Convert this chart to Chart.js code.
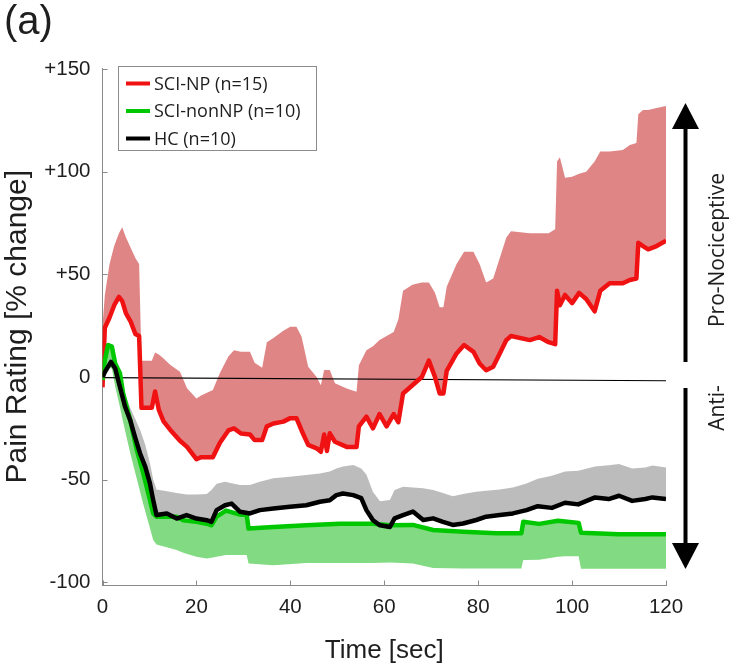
<!DOCTYPE html>
<html><head><meta charset="utf-8">
<script src="https://cdn.jsdelivr.net/npm/chart.js@4.4.1/dist/chart.umd.min.js"></script>
<style>html,body{margin:0;padding:0;background:#fff;} canvas{display:block;}</style>
</head><body>
<canvas id="c" width="733" height="668"></canvas>
<script>
// ---- data ----
const seriesLabels = ['SCI-NP (n=15)', 'SCI-nonNP (n=10)', 'HC (n=10)'];

const npTime  = [0,0.5,1.5,2.5,3.5,4.2,5,6,7,7.8,8.3,9,10.5,11.2,12,13,14.4,16.5,18,20,21,23.5,25,26.8,28,29.5,31.4,32.4,34,35,36.4,38.5,40,41.3,42.4,43.8,45.6,46.5,47.2,47.8,48.4,49.5,52,54.1,54.6,56.2,57.6,59,60.5,62,63,64,66,68,69.5,70.8,71.8,72.6,73.3,75.4,77,79,80.3,81.7,83.2,84.6,86,87,91,93,95,96.4,96.8,97.4,98.5,100,101.5,103,104.8,106,108,110.8,112.3,113.7,114.1,115.1,116.2,118,120];
const npMean  = [-5,24,29,35,39,37,31,27,21,20,-15,-15,-15,-7,-16,-21.6,-25.6,-31,-34,-40,-39,-39,-32,-26,-25,-27.5,-28,-30.7,-30.7,-24,-22.6,-21.7,-20,-20,-26,-33,-34.7,-36.4,-28,-36,-27.4,-31.5,-34,-34,-24,-19.3,-25,-18,-24,-18,-22,-8,-4,0,8,0,-8,-8,3,11.5,15.6,12.3,6.6,3.3,5,11.5,18,20,18,19.5,17,16,42,35,40,36,41,38,32,42,45.7,45.7,47.3,48,65.4,63.8,62.2,63.8,66.4];
const npUpper = [25,40,55,64,70,73,68,63,58,55,8,8,8,12,11,9,6,2.6,-5.5,-10.4,-9,-6.3,2,10,13,12.3,12.3,7,4.5,17,19,22.5,24.5,24.5,19.6,5,0,-4,3.4,3.4,3.4,-3,-5.6,-7.2,5.8,13,15,18,20,22,28,42,45,46,46,41,34,34,44,55,61,61,55,46,48,58,68,71,70,70,70,72,105,107,97,97.5,99,100,105,109.8,109.8,110.6,113,114,128,130,130,131,132];

const nnTime  = [0,0.5,1.2,2,2.7,3.7,4.4,5.9,7.3,8.7,10.1,10.8,11.5,15.8,17.2,20,22.2,23.2,24.3,26.3,29.3,30.7,31.1,36.4,43.4,50.5,57.6,61.2,66.1,70.4,76.8,83.9,89.2,89.6,93,97,98.5,101.4,101.9,110,120];
const nnMean  = [-1.4,8.3,15.6,14.8,6.6,2,-8,-21,-35.5,-46.9,-59.9,-66.4,-68,-68,-69.7,-70.5,-71.4,-72.2,-68,-65,-67,-67,-73.8,-73,-72.2,-71.4,-71.4,-72.2,-72,-74.5,-75.3,-76.1,-76,-70.5,-71.5,-70,-70.3,-71,-75.8,-76.5,-76.5];
const nnLower = [-3,2,5,4,-4.6,-14.4,-22,-37,-49.5,-62,-73.5,-79.4,-81.5,-84.2,-85.5,-87.5,-88.3,-88,-87.5,-86.7,-86.7,-86.7,-90.8,-91.6,-90.5,-90.5,-90.5,-90.3,-90.8,-93,-93.2,-93.2,-93.2,-89.1,-89,-87.5,-87.2,-87.2,-93.3,-93.3,-93.3];

const hcTime  = [0,0.5,1.8,2.7,3.7,4.8,5.9,6.9,8,9.1,10.1,10.8,11.5,13.7,15.8,17.9,20,22.2,23.2,24.3,26.1,27.5,29.3,31.4,33.5,36.4,39.9,43.4,46.3,48.4,49.8,51.2,53.4,55.1,56.2,57.6,59.1,61.2,62.2,64,66.1,68.3,70.4,72.5,74.6,76.8,79.6,81.7,84.6,87.4,90.3,92.7,95.7,98.5,101.3,104.9,107.8,110,112.8,115.6,117.1,120];
const hcMean  = [0,2.4,7.4,4.2,-4.7,-14.4,-21,-29,-37.2,-43.6,-51.8,-59.9,-67.2,-66.4,-68.9,-67.2,-68.9,-69.7,-70.5,-64.8,-62.4,-61.6,-65.6,-66.4,-64.8,-64,-63.2,-62.4,-60.7,-60,-57.5,-56.7,-57.5,-59,-64.8,-69.7,-72.2,-73,-68.8,-67.2,-65.5,-69.6,-68.8,-70.5,-72,-71.3,-69.6,-68,-67.2,-66.4,-64.8,-62.9,-63.7,-61.2,-62,-58.6,-59.4,-57.8,-60.3,-59.4,-58.6,-59.4];
const hcUpper = [2,5,9,5.3,-1.2,-8,-15,-20,-25.6,-33,-42,-49.9,-54.8,-55.6,-56.5,-57.2,-57.2,-57,-55,-52,-51,-51.7,-52.5,-52.5,-51,-49.3,-48.5,-47.7,-47,-46,-44.5,-43.6,-42.8,-44.5,-47.5,-56,-60.5,-59.9,-55,-53.4,-53.8,-54.2,-55,-56.5,-58,-57,-55.8,-55.3,-54.8,-53.8,-51.8,-49.5,-48,-46,-45.6,-43.5,-43,-42.3,-44.5,-44,-43.1,-44];

const zeroTime = [0, 120];
const zeroLine = [-0.3, -1.8];

const xTicks = [0, 20, 40, 60, 80, 100, 120];
const yTicks = [-100, -50, 0, 50, 100, 150];
const yTickLabels = ['-100', '-50', '0', '+50', '+100', '+150'];

// ---- styling ----
const colNP = '#f01212', colNPband = '#e08585';
const colNN = '#00c800', colNNband = '#82da82';
const colHC = '#000000', colHCband = '#bcbcbc';
const seriesColors = [colNP, colNN, colHC];

function pts(t, v) { return t.map((x, i) => ({x: x, y: v[i]})); }

const lineBase = {pointRadius: 0, tension: 0, fill: false};

const datasets = [
  Object.assign({label: seriesLabels[0], data: pts(npTime, npMean), borderColor: colNP, borderWidth: 4.5, order: 2}, lineBase), // 0
  Object.assign({label: seriesLabels[1], data: pts(nnTime, nnMean), borderColor: colNN, borderWidth: 4.5, order: 1}, lineBase), // 1
  Object.assign({label: seriesLabels[2], data: pts(hcTime, hcMean), borderColor: colHC, borderWidth: 4.5, order: 0}, lineBase), // 2
  Object.assign({label: 'zero', data: pts(zeroTime, zeroLine), borderColor: '#000', borderWidth: 1.2, order: 3}, lineBase), // 3
  {label: 'np band', data: pts(npTime, npUpper), borderWidth: 0, borderColor: colNPband, backgroundColor: colNPband, pointRadius: 0, tension: 0, fill: 0, order: 6},
  {label: 'nn band', data: pts(nnTime, nnLower), borderWidth: 0, borderColor: colNNband, backgroundColor: colNNband, pointRadius: 0, tension: 0, fill: 1, order: 5},
  {label: 'hc band', data: pts(hcTime, hcUpper), borderWidth: 0, borderColor: colHCband, backgroundColor: colHCband, pointRadius: 0, tension: 0, fill: 2, order: 4}
];

const axisColor = '#8a8a8a';
const textColor = '#1e1e1e';

const inwardTicks = {
  id: 'inwardTicks',
  beforeDatasetsDraw(chart) {
    const ctx = chart.ctx, xs = chart.scales.x, ys = chart.scales.y, a = chart.chartArea;
    ctx.save();
    ctx.strokeStyle = axisColor; ctx.lineWidth = 1;
    ctx.beginPath();
    xTicks.forEach(v => { const p = Math.round(xs.getPixelForValue(v)) + 0.5; ctx.moveTo(p, a.bottom); ctx.lineTo(p, a.bottom - 5); });
    yTicks.forEach(v => { const p = Math.round(ys.getPixelForValue(v)) + 0.5; ctx.moveTo(a.left, p); ctx.lineTo(a.left + 5, p); });
    ctx.stroke();
    ctx.restore();
  }
};

const decorations = {
  id: 'decorations',
  afterDraw(chart) {
    const ctx = chart.ctx;
    ctx.save();
    // panel label
    ctx.fillStyle = textColor;
    ctx.font = '40px "Liberation Sans", Arial, sans-serif';
    ctx.textBaseline = 'alphabetic'; ctx.textAlign = 'left';
    ctx.fillText('(a)', 4, 34);
    // legend box
    ctx.fillStyle = '#fff';
    ctx.fillRect(118, 66, 199, 85);
    ctx.strokeStyle = '#8c8c8c'; ctx.lineWidth = 1;
    ctx.strokeRect(118.5, 66.5, 198, 84);
    const rows = [83.5, 111, 138.5];
    ctx.font = '18px "Open Sans", sans-serif';
    ctx.textBaseline = 'middle';
    seriesLabels.forEach((lab, i) => {
      ctx.strokeStyle = seriesColors[i]; ctx.lineWidth = 4;
      ctx.beginPath(); ctx.moveTo(126, rows[i]); ctx.lineTo(150, rows[i]); ctx.stroke();
      ctx.fillStyle = textColor;
      ctx.fillText(lab, 154, rows[i] + 1);
    });
    // arrows
    const ax = 685.5;
    ctx.strokeStyle = '#000'; ctx.fillStyle = '#000'; ctx.lineWidth = 4;
    ctx.beginPath(); ctx.moveTo(ax, 126); ctx.lineTo(ax, 362); ctx.stroke();
    ctx.beginPath(); ctx.moveTo(ax, 388); ctx.lineTo(ax, 547); ctx.stroke();
    ctx.beginPath(); ctx.moveTo(ax, 103); ctx.lineTo(ax - 13.5, 129); ctx.lineTo(ax + 13.5, 129); ctx.closePath(); ctx.fill();
    ctx.beginPath(); ctx.moveTo(ax, 569); ctx.lineTo(ax - 13.5, 543); ctx.lineTo(ax + 13.5, 543); ctx.closePath(); ctx.fill();
    // side texts
    ctx.fillStyle = textColor;
    ctx.font = '21px "Open Sans", sans-serif';
    ctx.textAlign = 'center'; ctx.textBaseline = 'middle';
    ctx.save(); ctx.translate(718, 250); ctx.rotate(-Math.PI / 2); ctx.fillText('Pro-Nociceptive', 0, 0); ctx.restore();
    ctx.save(); ctx.translate(718, 408); ctx.rotate(-Math.PI / 2); ctx.fillText('Anti-', 0, 0); ctx.restore();
    ctx.restore();
  }
};

new Chart(document.getElementById('c'), {
  type: 'line',
  data: {datasets: datasets},
  plugins: [inwardTicks, decorations],
  options: {
    responsive: false,
    animation: false,
    events: [],
    layout: {padding: {top: 68, right: 67, bottom: 0, left: 0}},
    plugins: {legend: {display: false}, tooltip: {enabled: false}, title: {display: false}},
    elements: {line: {borderCapStyle: 'butt', borderJoinStyle: 'round'}},
    scales: {
      x: {
        type: 'linear', min: 0, max: 120,
        afterFit(s) { s.height = 82.5; },
        afterBuildTicks(s) { s.ticks = xTicks.map(v => ({value: v})); },
        grid: {display: true, drawOnChartArea: false, drawTicks: false},
        border: {display: true, color: axisColor, width: 1},
        ticks: {padding: 10, color: textColor, font: {family: '"Liberation Sans", Arial, sans-serif', size: 20.5}, maxRotation: 0, autoSkip: false},
        title: {display: true, text: 'Time [sec]', color: textColor, font: {family: '"Liberation Sans", Arial, sans-serif', size: 26}, padding: {top: 0, bottom: 2}}
      },
      y: {
        type: 'linear', min: -101.5, max: 150.5,
        afterFit(s) { s.width = 102.5; },
        afterBuildTicks(s) { s.ticks = yTicks.map(v => ({value: v})); },
        grid: {display: true, drawOnChartArea: false, drawTicks: false},
        border: {display: true, color: axisColor, width: 1},
        ticks: {padding: 12, color: textColor, font: {family: '"Liberation Sans", Arial, sans-serif', size: 20.5},
          callback(v) { const i = yTicks.indexOf(v); return i >= 0 ? yTickLabels[i] : ''; }},
        title: {display: true, text: 'Pain Rating [% change]', color: textColor, font: {family: '"Liberation Sans", Arial, sans-serif', size: 30}, padding: {top: 0, bottom: 0}}
      }
    }
  }
});
</script>
</body></html>
